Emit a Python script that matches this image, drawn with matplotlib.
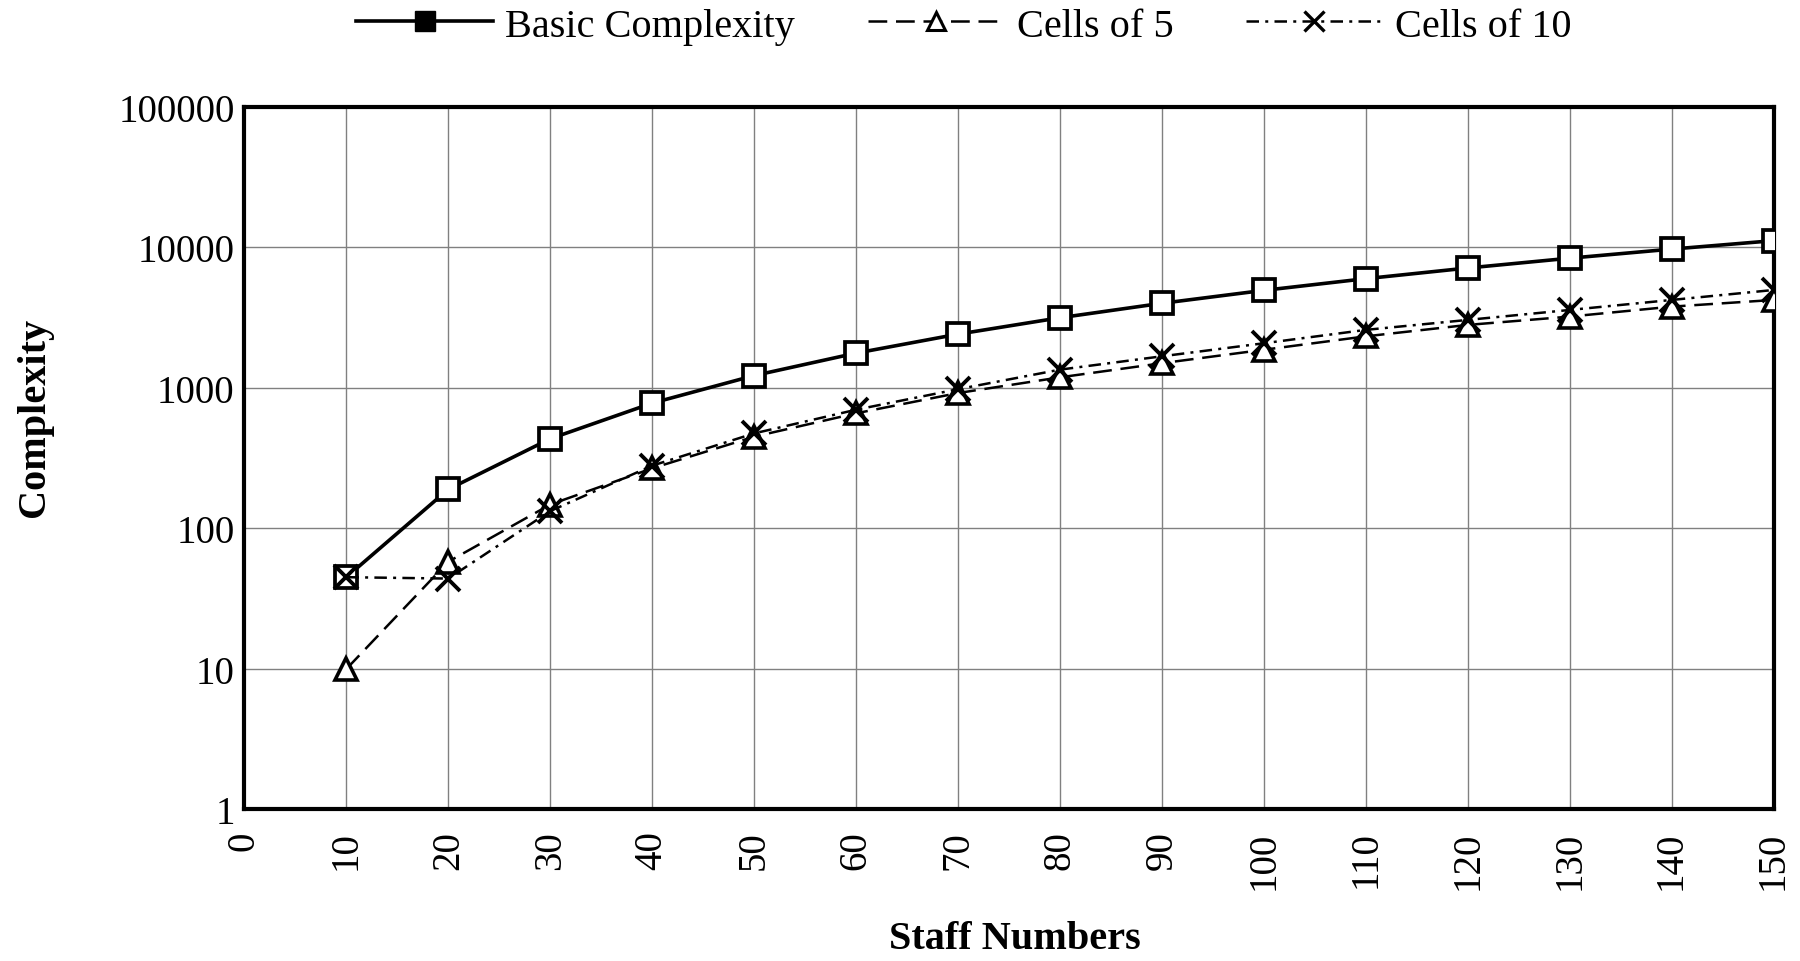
import matplotlib
matplotlib.use("Agg")
import matplotlib.pyplot as plt
from matplotlib.lines import Line2D

# Data
staff_numbers = [10, 20, 30, 40, 50, 60, 70, 80, 90, 100, 110, 120, 130, 140, 150]
basic_complexity = [45, 190, 435, 780, 1225, 1770, 2415, 3160, 4005, 4950, 5995, 7140, 8385, 9730, 11175]
cells_of_5 = [10, 58, 148, 268, 450, 660, 920, 1190, 1500, 1870, 2330, 2810, 3220, 3790, 4230]
cells_of_10 = [45, 44, 133, 280, 475, 700, 980, 1350, 1680, 2080, 2590, 3050, 3590, 4230, 4980]

x_ticks = list(range(0, 151, 10))
y_ticks = [1, 10, 100, 1000, 10000, 100000]
y_tick_labels = ["1", "10", "100", "1000", "10000", "100000"]
series_labels = ["Basic Complexity", "Cells of 5", "Cells of 10"]

plt.rcParams['font.family'] = ['Liberation Serif', 'DejaVu Serif']

fig = plt.figure(figsize=(18, 9.62), dpi=100)
ax = fig.add_axes([0.1358, 0.1575, 0.8495, 0.7303])

ls5 = (0, (7.5, 3.5))
ls10 = (0, (5, 2.5, 1.2, 2.5))

ax.plot(staff_numbers, basic_complexity, color='black', lw=2.6, ls='-',
        marker='s', ms=16, mfc='white', mec='black', mew=2.7, zorder=5)
ax.plot(staff_numbers, cells_of_5, color='black', lw=1.8, ls=ls5,
        marker='^', ms=16, mfc='white', mec='black', mew=2.6, zorder=4)
ax.plot(staff_numbers, cells_of_10, color='black', lw=1.8, ls=ls10,
        marker='x', ms=17, mec='black', mew=2.8, zorder=6)

ax.set_yscale('log')
ax.set_xlim(0, 150)
ax.set_ylim(1, 100000)
ax.set_xticks(x_ticks)
ax.set_xticklabels([str(v) for v in x_ticks], rotation=90)
ax.set_yticks(y_ticks)
ax.set_yticklabels(y_tick_labels)
ax.yaxis.set_minor_locator(matplotlib.ticker.NullLocator())
ax.tick_params(axis='both', length=0, labelsize=28)
ax.tick_params(axis='x', pad=15)
ax.tick_params(axis='y', pad=7)

ax.grid(True, which='major', color='#808080', lw=1.0)
ax.set_axisbelow(True)
for sp in ax.spines.values():
    sp.set_linewidth(3)
    sp.set_color('black')

ax.set_xlabel("Staff Numbers", fontsize=29, fontweight='bold', va='center')
ax.xaxis.set_label_coords(0.504, -0.183)
ax.set_ylabel("Complexity", fontsize=29, fontweight='bold', va='center')
ax.yaxis.set_label_coords(-0.137, 0.56)

handles = [
    Line2D([], [], color='black', lw=2.6, ls='-', marker='s', ms=15,
           mfc='black', mec='black'),
    Line2D([], [], color='black', lw=1.8, ls=ls5, marker='^', ms=13,
           mfc='white', mec='black', mew=2.2),
    Line2D([], [], color='black', lw=1.8, ls=ls10, marker='x', ms=14,
           mec='black', mew=2.4),
]
fig.legend(handles, series_labels, loc='center', bbox_to_anchor=(0.5355, 0.972),
           ncol=3, frameon=False, fontsize=29, handlelength=3.4,
           handletextpad=0.3, columnspacing=1.8)

fig.savefig("out.png", dpi=100)
